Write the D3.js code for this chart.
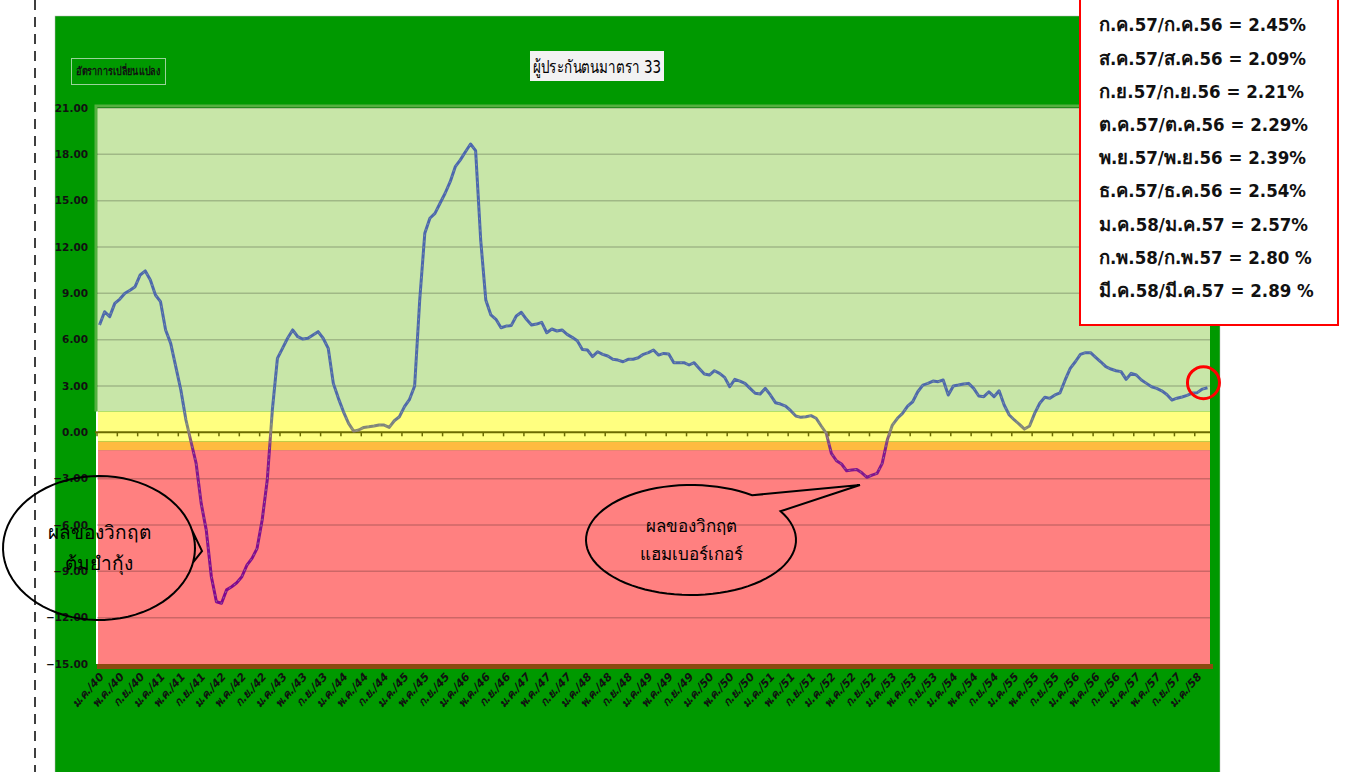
<!DOCTYPE html>
<html>
<head>
<meta charset="utf-8">
<script src="https://cdn.jsdelivr.net/npm/d3@7"></script>
<style>
  body { margin: 0; background: #fff; }
  svg { display: block; }
</style>
</head>
<body>
<svg id="chart" width="1346" height="772"></svg>
<script>
// อัตราการเปลี่ยนแปลง ผู้ประกันตนมาตรา 33 (%), monthly ม.ค./40 .. มี.ค./58
const rate = [
  6.95, 7.81, 7.49, 8.35, 8.63, 9.00, 9.20, 9.43, 10.19, 10.45, 9.86, 8.89,
  8.46, 6.63, 5.76, 4.25, 2.74, 0.80, -0.61, -2.00, -4.60, -6.33, -9.35, -10.97,
  -11.07, -10.20, -10.00, -9.74, -9.35, -8.60, -8.16, -7.51, -5.68, -3.09, 1.44, 4.79,
  5.44, 6.09, 6.63, 6.19, 6.04, 6.09, 6.30, 6.52, 6.09, 5.44, 3.17, 2.20,
  1.33, 0.58, 0.08, 0.15, 0.32, 0.36, 0.41, 0.47, 0.47, 0.32, 0.75, 1.01,
  1.66, 2.14, 3.00, 8.57, 12.89, 13.86, 14.18, 14.83, 15.48, 16.23, 17.20, 17.64,
  18.17, 18.67, 18.24, 12.45, 8.57, 7.60, 7.32, 6.77, 6.88, 6.91, 7.53, 7.77,
  7.32, 6.95, 7.01, 7.12, 6.45, 6.69, 6.56, 6.63, 6.34, 6.15, 5.93, 5.37,
  5.33, 4.90, 5.22, 5.05, 4.94, 4.73, 4.68, 4.57, 4.73, 4.73, 4.83, 5.05,
  5.16, 5.33, 5.00, 5.11, 5.07, 4.51, 4.51, 4.51, 4.36, 4.51, 4.14, 3.78,
  3.71, 3.99, 3.82, 3.56, 2.95, 3.43, 3.32, 3.17, 2.85, 2.53, 2.48, 2.85,
  2.42, 1.92, 1.83, 1.70, 1.40, 1.06, 0.97, 1.01, 1.08, 0.91, 0.41, -0.06,
  -1.36, -1.84, -2.05, -2.49, -2.44, -2.40, -2.62, -2.91, -2.77, -2.66, -2.01, -0.50,
  0.47, 0.91, 1.23, 1.70, 1.98, 2.63, 3.06, 3.17, 3.32, 3.28, 3.39, 2.42,
  3.00, 3.06, 3.13, 3.17, 2.85, 2.35, 2.31, 2.63, 2.31, 2.69, 1.77, 1.12,
  0.80, 0.52, 0.21, 0.41, 1.23, 1.88, 2.27, 2.20, 2.42, 2.56, 3.39, 4.14,
  4.57, 5.05, 5.16, 5.16, 4.86, 4.57, 4.25, 4.10, 3.99, 3.93, 3.43, 3.82,
  3.71, 3.39, 3.17, 2.95, 2.85, 2.69, 2.45, 2.09, 2.21, 2.29, 2.39, 2.54,
  2.57, 2.80, 2.89
]

const labelMonths = ["ม.ค.", "พ.ค.", "ก.ย."]
const years = d3.range(40, 59)
const yTicks = [21, 18, 15, 12, 9, 6, 3, 0, -3, -6, -9, -12, -15]

const notes = [
  "ก.ค.57/ก.ค.56 = 2.45%",
  "ส.ค.57/ส.ค.56 = 2.09%",
  "ก.ย.57/ก.ย.56 = 2.21%",
  "ต.ค.57/ต.ค.56 = 2.29%",
  "พ.ย.57/พ.ย.56 = 2.39%",
  "ธ.ค.57/ธ.ค.56 = 2.54%",
  "ม.ค.58/ม.ค.57 = 2.57%",
  "ก.พ.58/ก.พ.57 = 2.80 %",
  "มี.ค.58/มี.ค.57 = 2.89 %"
]

// background bands (value ranges)
const bands = [
  {from: 21, to: 1.35, color: "#c8e6a8"},
  {from: 1.35, to: -0.6, color: "#ffff80"},
  {from: -0.6, to: -1.15, color: "#ffbb40"},
  {from: -1.15, to: -15, color: "#ff8080"}
]

const svg = d3.select("#chart")
const font = "Tahoma, 'DejaVu Sans', sans-serif"

let x = d3.scaleBand()
    .domain(d3.range(rate.length))
    .range([97, 1210])
let y = d3.scaleLinear()
    .domain([-15, 21])
    .range([664, 108])

// dashed guide at the left of the page
svg.append("line")
    .attr("x1", 35).attr("x2", 35)
    .attr("y1", 0).attr("y2", 772)
    .attr("stroke", "#000")
    .attr("stroke-width", 1.5)
    .attr("stroke-dasharray", "10,7")

// chart background
svg.append("rect")
    .attr("x", 55).attr("y", 16)
    .attr("width", 1165).attr("height", 760)
    .attr("fill", "#009900")
    .attr("stroke", "#bbb")
    .attr("stroke-width", 0.5)

// plot bands
svg.selectAll(".band")
    .data(bands)
    .enter()
    .append("rect")
    .attr("x", 97)
    .attr("width", 1113)
    .attr("y", d => y(d.from))
    .attr("height", d => y(d.to) - y(d.from))
    .attr("fill", d => d.color)

// lighter rim on top and left of the green band
svg.append("path")
    .attr("d", "M96," + y(1.35) + "V" + (y(21) - 2) + "H1211")
    .attr("fill", "none")
    .attr("stroke", "#55b040")
    .attr("stroke-width", 3)

svg.append("line")
    .attr("x1", 97).attr("x2", 97)
    .attr("y1", y(1.35)).attr("y2", y(-15))
    .attr("stroke", "#fff").attr("stroke-width", 2)

// brown floor
svg.append("rect")
    .attr("x", 97).attr("y", y(-15))
    .attr("width", 1116).attr("height", 5)
    .attr("fill", "#8b4a10")

// gridlines
svg.selectAll(".grid")
    .data(yTicks.filter(d => d !== 0 && d !== -15))
    .enter()
    .append("line")
    .attr("x1", 97).attr("x2", 1210)
    .attr("y1", d => y(d)).attr("y2", d => y(d))
    .attr("stroke", "#000")
    .attr("stroke-opacity", 0.2)
    .attr("stroke-width", 1.5)

// y labels
svg.selectAll(".ylab")
    .data(yTicks)
    .enter()
    .append("text")
    .attr("x", 88)
    .attr("y", d => y(d))
    .attr("dy", "0.35em")
    .attr("text-anchor", "end")
    .style("font-family", font)
    .style("font-size", "10.5px")
    .style("font-weight", "bold")
    .attr("fill", "#111")
    .text(d => d3.format(".2f")(d))

// zero axis with ticks every 4 months
svg.append("line")
    .attr("x1", 95).attr("x2", 1210)
    .attr("y1", y(0)).attr("y2", y(0))
    .attr("stroke", "#6b6b00")
    .attr("stroke-width", 2)
svg.selectAll(".tick")
    .data(d3.range(0, rate.length + 1, 4))
    .enter()
    .append("line")
    .attr("x1", d => 97 + d * x.step()).attr("x2", d => 97 + d * x.step())
    .attr("y1", y(0)).attr("y2", y(0) + 4)
    .attr("stroke", "#6b6b00")
    .attr("stroke-width", 1.5)

// x labels
let xLabels = []
years.forEach(function (yr) {
    labelMonths.forEach(function (m, k) {
        let idx = (yr - 40) * 12 + k * 4
        if (idx < rate.length) xLabels.push({i: idx, text: m + "/" + yr})
    })
})
svg.selectAll(".xlab")
    .data(xLabels)
    .enter()
    .append("text")
    .attr("transform", d => "translate(" + (x(d.i) + x.bandwidth() / 2 + 5) + ",677) rotate(-48)")
    .attr("text-anchor", "end")
    .style("font-family", font)
    .style("font-size", "11px")
    .style("font-weight", "bold")
    .style("font-style", "italic")
    .attr("fill", "#111")
    .text(d => d.text)

// line colour fades from blue to purple below zero
let grad = svg.append("defs").append("linearGradient")
    .attr("id", "lineGrad")
    .attr("gradientUnits", "userSpaceOnUse")
    .attr("x1", 0).attr("x2", 0)
    .attr("y1", y(21)).attr("y2", y(-15))
grad.selectAll("stop")
    .data([
        {v: 21, c: "#4a66b0"},
        {v: 1.6, c: "#4f6aab"},
        {v: 0.2, c: "#8a8a72"},
        {v: -1.2, c: "#82188e"},
        {v: -15, c: "#800090"}
    ])
    .enter()
    .append("stop")
    .attr("offset", d => (y(d.v) - y(21)) / (y(-15) - y(21)))
    .attr("stop-color", d => d.c)

let line = d3.line()
    .x((d, i) => x(i) + x.bandwidth() / 2)
    .y(d => y(d))

svg.append("path")
    .datum(rate)
    .attr("d", line)
    .attr("fill", "none")
    .attr("stroke", "url(#lineGrad)")
    .attr("stroke-width", 3)
    .attr("stroke-linejoin", "round")
svg.append("path")
    .datum(rate)
    .attr("d", line)
    .attr("fill", "none")
    .attr("stroke", "#9fb88a")
    .attr("stroke-opacity", 0.55)
    .attr("stroke-width", 1)
    .attr("stroke-dasharray", "2,4")

// top-left label box
svg.append("rect")
    .attr("x", 71.5).attr("y", 58.5)
    .attr("width", 94).attr("height", 26)
    .attr("fill", "none")
    .attr("stroke", "#9ad29a")
    .attr("stroke-width", 1)
svg.append("text")
    .attr("x", 118).attr("y", 75)
    .attr("text-anchor", "middle")
    .attr("textLength", 84)
    .attr("lengthAdjust", "spacingAndGlyphs")
    .style("font-family", font)
    .style("font-size", "11px")
    .style("font-weight", "bold")
    .attr("fill", "#111")
    .text("อัตราการเปลี่ยนแปลง")

// title
svg.append("rect")
    .attr("x", 530).attr("y", 51)
    .attr("width", 134).attr("height", 30)
    .attr("fill", "#f2f2f2")
svg.append("text")
    .attr("x", 597).attr("y", 73)
    .attr("text-anchor", "middle")
    .attr("textLength", 128)
    .attr("lengthAdjust", "spacingAndGlyphs")
    .style("font-family", font)
    .style("font-size", "18px")
    .attr("fill", "#000")
    .text("ผู้ประกันตนมาตรา 33")

// callouts
function callout(cx, cy, rx, ry, a1, a2, tip, lines, size) {
    let p1 = [cx + rx * Math.cos(a1), cy + ry * Math.sin(a1)]
    let p2 = [cx + rx * Math.cos(a2), cy + ry * Math.sin(a2)]
    let path = d3.path()
    path.moveTo(p1[0], p1[1])
    path.lineTo(tip[0], tip[1])
    path.lineTo(p2[0], p2[1])
    // sweep the long way round the ellipse
    let steps = 80
    let span = (a1 + 2 * Math.PI) - a2
    for (let s = 1; s <= steps; s++) {
        let a = a2 + span * s / steps
        path.lineTo(cx + rx * Math.cos(a), cy + ry * Math.sin(a))
    }
    path.closePath()
    svg.append("path")
        .attr("d", path.toString())
        .attr("fill", "none")
        .attr("stroke", "#000")
        .attr("stroke-width", 2)
    lines.forEach(function (t, k) {
        svg.append("text")
            .attr("x", cx)
            .attr("y", cy + (k - (lines.length - 1) / 2) * size * 1.6)
            .attr("dy", "0.35em")
            .attr("text-anchor", "middle")
            .style("font-family", font)
            .style("font-size", size + "px")
            .attr("fill", "#000")
            .text(t)
    })
}

callout(99, 548, 96, 72, 0.2, -0.25, [202, 551], ["ผลของวิกฤต", "ต้มยำกุ้ง"], 19)
callout(691, 540, 105, 55, -0.95, -0.55, [860, 485], ["ผลของวิกฤต", "แฮมเบอร์เกอร์"], 17)

// red circle round the last point
let last = rate.length - 1
svg.append("circle")
    .attr("cx", x(last) + x.bandwidth() / 2 - 4)
    .attr("cy", y(rate[last]) - 5)
    .attr("r", 16)
    .attr("fill", "none")
    .attr("stroke", "#ff0000")
    .attr("stroke-width", 3)

// notes box
svg.append("rect")
    .attr("x", 1080).attr("y", -4)
    .attr("width", 258).attr("height", 329)
    .attr("fill", "#fff")
    .attr("stroke", "#ff0000")
    .attr("stroke-width", 2)
svg.selectAll(".note")
    .data(notes)
    .enter()
    .append("text")
    .attr("x", 1099)
    .attr("y", (d, i) => 25 + i * 33.2)
    .attr("dy", "0.35em")
    .style("font-family", "'DejaVu Sans Condensed', " + font)
    .style("font-size", "18.5px")
    .style("font-weight", "bold")
    .attr("fill", "#111")
    .text(d => d)
</script>
</body>
</html>
